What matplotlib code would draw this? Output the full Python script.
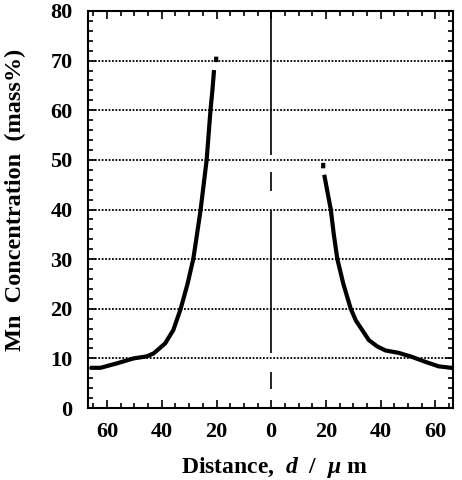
import matplotlib
matplotlib.use("Agg")
import matplotlib.pyplot as plt
from matplotlib.ticker import MultipleLocator, FuncFormatter

# left side profile (distance measured to the left, plotted as negative x)
left_d = [-66.3, -62.4, -56.4, -50.3, -47.9, -45.5, -43.0, -38.8, -35.8, -33.1,
          -30.6, -28.5, -27.4, -26.6, -25.8, -24.7, -23.6, -22.2, -21.5, -20.9]
left_mn = [8.1, 8.1, 9.0, 10.0, 10.2, 10.4, 11.0, 13.0, 15.7, 20.0,
           25.0, 30.0, 34.0, 37.0, 40.0, 45.0, 50.0, 60.0, 64.0, 68.1]
left_tip_d = [-20.15, -20.1]
left_tip_mn = [69.7, 70.8]

# right side profile
right_d = [19.4, 20.6, 21.8, 22.9, 24.2, 26.4, 29.1, 31.0, 33.3, 35.7,
           38.8, 41.8, 46.7, 51.5, 56.4, 61.2, 65.8, 66.5]
right_mn = [47.0, 43.5, 40.0, 35.0, 30.0, 25.0, 20.0, 17.6, 15.7, 13.7,
            12.4, 11.6, 11.1, 10.3, 9.3, 8.4, 8.1, 8.1]
right_tip_d = [19.0, 19.05]
right_tip_mn = [48.3, 49.4]

# interface line at d = 0, drawn in pieces
interface_segments = [(80, 51), (47.6, 43.8), (40, 11), (7.3, 3.8)]

grid_levels = [10, 20, 30, 40, 50, 60, 70]

plt.rcParams['font.family'] = ['Liberation Serif', 'DejaVu Serif']
plt.rcParams['font.weight'] = 'bold'
plt.rcParams['mathtext.fontset'] = 'custom'
plt.rcParams['mathtext.rm'] = 'Liberation Serif:bold'
plt.rcParams['mathtext.it'] = 'Liberation Serif:italic:bold'

fig = plt.figure(figsize=(4.62, 4.8), dpi=100)
ax = fig.add_axes([88 / 462, 1 - 408 / 480, 365 / 462, 397 / 480])

for g in grid_levels:
    ax.axhline(g, color='black', lw=1.3, ls=(0, (1, 0.9)), zorder=1)

for top, bot in interface_segments:
    ax.plot([0, 0], [top, bot], color='black', lw=1.2, solid_capstyle='butt', zorder=2)

curve_kw = dict(color='black', lw=3, solid_capstyle='butt', solid_joinstyle='round', zorder=3)
ax.plot(left_d, left_mn, **curve_kw)
ax.plot(left_tip_d, left_tip_mn, **curve_kw)
ax.plot(right_d, right_mn, **curve_kw)
ax.plot(right_tip_d, right_tip_mn, **curve_kw)

ax.set_xlim(-67, 66.5)
ax.set_ylim(0, 80)
ax.xaxis.set_major_locator(MultipleLocator(20))
ax.xaxis.set_minor_locator(MultipleLocator(5))
ax.yaxis.set_major_locator(MultipleLocator(10))
ax.yaxis.set_minor_locator(MultipleLocator(2))
ax.xaxis.set_major_formatter(FuncFormatter(lambda v, p: f"{abs(v):.0f}"))

ax.tick_params(which='both', direction='in', top=True, right=True, width=1.2)
ax.tick_params(which='major', length=6)
ax.tick_params(which='minor', length=3.5)
ax.tick_params(axis='x', which='major', labelsize=16, pad=10)
ax.tick_params(axis='y', which='major', labelsize=16, pad=11)
for s in ax.spines.values():
    s.set_linewidth(1.5)

fig.text(274 / 462, 1 - 473 / 480, r'Distance,  $d$  /  $\mu$ m',
         ha='center', va='baseline', fontsize=17, fontweight='bold')
fig.text(15 / 462, 1 - 200 / 480, 'Mn  Concentration  (mass%)',
         ha='center', va='center', rotation=90, fontsize=17.5, fontweight='bold')

fig.savefig('out.png', dpi=100)
